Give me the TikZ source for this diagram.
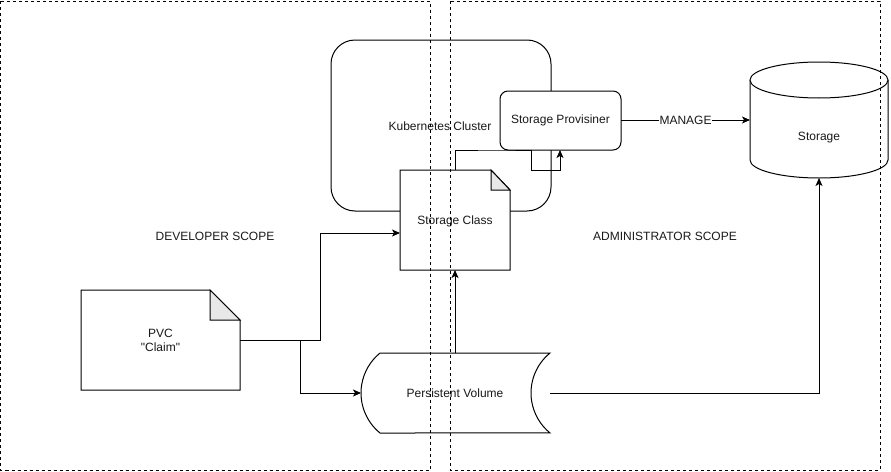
\documentclass[tikz,border=0pt]{standalone}
\usepackage{fontspec}
\newfontfamily\lsans{Liberation Sans}
\usetikzlibrary{arrows.meta}
\begin{document}
\begin{tikzpicture}[x=1pt,y=-1pt,
  line width=1pt,
  lbl/.style={font=\lsans\fontsize{12}{14}\selectfont, text=black!90, inner sep=1pt},
  conn/.style={line width=1pt, -{Stealth[length=8pt,width=7pt,inset=2pt]}},
  scopebox/.style={line width=0.9pt, dash pattern=on 3pt off 3pt},
  shapeline/.style={draw=black, fill=white, line width=1pt},
  fold/.style={draw=black, fill=black!9, line width=1pt}]
\useasboundingbox (0,0) rectangle (891,471);

% Kubernetes cluster
\draw[shapeline, rounded corners=24pt] (331,40) rectangle (551,211);
\node[lbl] (kc) at (440,126) {Kubernetes Cluster};

% Storage Provisioner
\draw[shapeline, rounded corners=8pt] (500,91) rectangle (621,150);
\node[lbl] (sp) at (560.5,120.5) {Storage Provisiner};
\coordinate (spL) at (500,150);
\coordinate (spB) at (560,150);
\coordinate (spR) at (621,120);

% Storage class document
\draw[shapeline] (400,170) -- (491,170) -- (510,190) -- (510,270) -- (400,270) -- cycle;
\draw[fold] (491,170) -- (491,190) -- (510,190) -- cycle;
\node[lbl] (sc) at (455,221) {Storage Class};
\coordinate (scT) at (455,170);
\coordinate (scB) at (455,270);
\coordinate (scL) at (400,233);

% PVC document
\draw[shapeline] (81,290) -- (210,290) -- (240,320) -- (240,390) -- (81,390) -- cycle;
\draw[fold] (210,290) -- (210,320) -- (240,320) -- cycle;
\node[lbl, align=center] (pvc) at (160.5,340) {PVC\\"Claim"};
\coordinate (pvcR) at (240,340.5);

% Persistent Volume
\draw[shapeline] (380,353) -- (550,353) arc[start angle=129.2,end angle=230.8,radius=51.6pt] -- (380,433) arc[start angle=230.8,end angle=129.2,radius=51.6pt] -- cycle;
\node[lbl] (pv) at (455,393) {Persistent Volume};
\coordinate (pvT) at (455,353);
\coordinate (pvL) at (361,393);
\coordinate (pvR) at (550,393);

% Storage cylinder
\draw[shapeline] (750,80) -- (750,160) arc[start angle=180,end angle=360,x radius=69pt,y radius=18pt] -- (888,80);
\draw[shapeline] (819,80) ellipse[x radius=69pt, y radius=18pt];
\node[lbl] (st) at (819,138) {Storage};
\coordinate (stL) at (750,120);
\coordinate (stB) at (819,178);

% connectors
\draw[conn] (spR) -- node[lbl, fill=white, inner sep=0.5pt] {MANAGE} (stL);
\draw[conn] (pvcR) -| (320,233) -- (scL);
\draw[conn] (300,340.5) |- (pvL);
\draw[conn] (pvT) -- (scB);
\draw[conn] (pvR) -| (stB);
\draw[line width=1pt] (scT) |- (spL) -- (531,150);
\draw[conn] (531,150) -- (531,170) -- (560,170) -- (spB);

% scopes
\draw[scopebox] (0.5,1) rectangle (430,470);
\draw[scopebox] (450,1) rectangle (880,470);
\node[lbl] (dev) at (215,236.5) {DEVELOPER SCOPE};
\node[lbl] (adm) at (665,236.5) {ADMINISTRATOR SCOPE};
\end{tikzpicture}
\end{document}
